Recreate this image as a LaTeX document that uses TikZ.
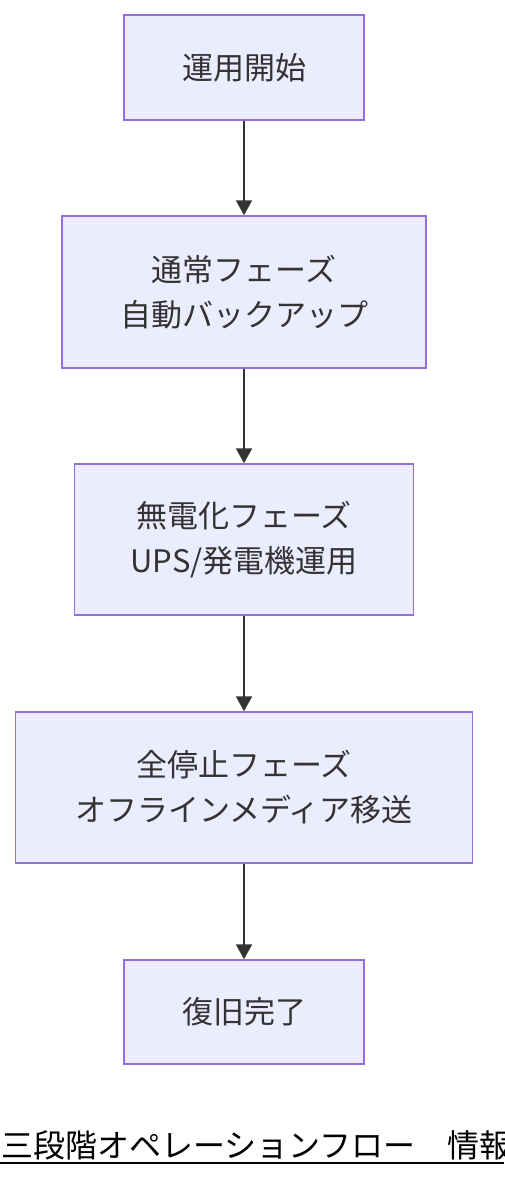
\documentclass[tikz,border=0pt]{standalone}
\usepackage{fontspec}
\setmainfont{Noto Sans CJK JP}
\newfontfamily\capfont{Noto Sans CJK JP}
\usetikzlibrary{arrows.meta}
\definecolor{boxfill}{HTML}{ECECFF}
\definecolor{boxline}{HTML}{9370DB}
\definecolor{ink}{HTML}{333333}
\tikzset{
  stepbox/.style={draw=boxline, fill=boxfill, line width=1.5pt, text=ink, font=\fontsize{31}{45}\selectfont, align=center, inner sep=0pt},
  flow/.style={draw=ink, line width=2pt, -{Triangle[length=15pt,width=16pt]}}
}
\begin{document}
\begin{tikzpicture}[x=1pt,y=-1pt]
\useasboundingbox (0,0) rectangle (504,1180);
\clip (0,0) rectangle (504,1180);
\node[stepbox, minimum width=240pt, minimum height=105pt] (a) at (244,67.5) {運用開始};
\node[stepbox, minimum width=364pt, minimum height=152pt] (b) at (244,292) {通常フェーズ\\自動バックアップ};
\node[stepbox, minimum width=339pt, minimum height=151pt] (c) at (244,539.5) {無電化フェーズ\\UPS/発電機運用};
\node[stepbox, minimum width=457pt, minimum height=151pt] (d) at (244,787.5) {全停止フェーズ\\オフラインメディア移送};
\node[stepbox, minimum width=240pt, minimum height=104pt] (e) at (244,1012) {復旧完了};
\draw[flow] (a) -- (b);
\draw[flow] (b) -- (c);
\draw[flow] (c) -- (d);
\draw[flow] (d) -- (e);
\node[anchor=base west, inner sep=0pt, font=\capfont\fontsize{32}{32}\selectfont, text=black] (t) at (1,1157) {三段階オペレーションフロー　情報};
\coordinate (u1) at (0,1163);
\coordinate (u2) at (504,1163);
\draw[line width=2pt, black] (u1) -- (u2);
\end{tikzpicture}
\end{document}
